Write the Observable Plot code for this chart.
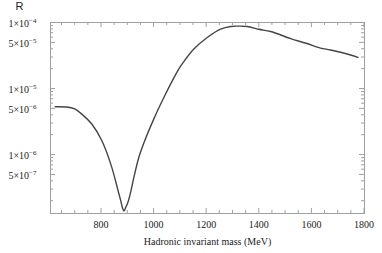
<!DOCTYPE html>
<html><head><meta charset="utf-8">
<script src="https://cdn.jsdelivr.net/npm/d3@7"></script>
<script src="https://cdn.jsdelivr.net/npm/@observablehq/plot@0.6"></script>
<style>body{margin:0;background:#fff}</style>
</head><body><div id="chart"></div>
<script>
const mass  = [626, 669, 700, 727, 765, 803, 839, 868, 875, 880, 884, 887, 890, 894, 900, 906, 915, 925, 944, 963, 1001, 1039, 1077, 1095, 1110, 1153, 1204, 1255, 1293, 1320, 1356, 1400, 1445, 1521, 1580, 1635, 1673, 1749, 1777];
const ratio = [5.3e-6, 5.25e-6, 4.9e-6, 4.1e-6, 2.9e-6, 1.63e-6, 6.8e-7, 2.55e-7, 2.0e-7, 1.65e-7, 1.47e-7, 1.40e-7, 1.44e-7, 1.58e-7, 1.78e-7, 2.1e-7, 2.95e-7, 4.5e-7, 9.1e-7, 1.5e-6, 3.47e-6, 7.3e-6, 1.45e-5, 1.95e-5, 2.4e-5, 3.96e-5, 5.93e-5, 7.95e-5, 8.7e-5, 8.8e-5, 8.7e-5, 7.9e-5, 7.3e-5, 5.7e-5, 4.85e-5, 4.1e-5, 3.83e-5, 3.22e-5, 2.96e-5];
const xTicks = [800, 1000, 1200, 1400, 1600, 1800];
const yTicks = [1e-4, 5e-5, 1e-5, 5e-6, 1e-6, 5e-7];
const yTickLabels = ["1×10^−4", "5×10^−5", "1×10^−5", "5×10^−6", "1×10^−6", "5×10^−7"];
const xLabel = "Hadronic invariant mass (MeV)";
const yLabel = "R";

const data = mass.map((m, i) => ({m, r: ratio[i]}));
const yLabelData = yTicks.map((v, i) => ({v, label: yTickLabels[i]}));
const xDomain = [608, 1802];
const yDomain = [1.28e-7, 1e-4];

const W = 382, H = 253, mL = 50, mR = 18, mT = 22, mB = 40;
const iw = W - mL - mR, ih = H - mT - mB;

const xMinor = d3.range(650, 1801, 50).filter(v => !xTicks.includes(v));
const yMinor = [];
for (let e = -7; e <= -5; e++) for (let k = 1; k <= 9; k++) {
  const v = k * Math.pow(10, e);
  if (v >= yDomain[0] && v <= yDomain[1] && !yTicks.some(t => Math.abs(t - v) / v < 1e-9)) yMinor.push(v);
}
const tc = "#a0a0a0";
const serif = "Liberation Serif, Times New Roman, serif";

const chart = Plot.plot({
  width: W, height: H,
  marginLeft: mL, marginRight: mR, marginTop: mT, marginBottom: mB,
  style: {background: "#fff", overflow: "visible"},
  x: {domain: xDomain, axis: null},
  y: {type: "log", domain: yDomain, axis: null},
  marks: [
    Plot.frame({stroke: tc, strokeWidth: 1}),
    Plot.tickX(xTicks, {x: d => d, insetTop: ih - 5, stroke: tc}),
    Plot.tickX(xTicks, {x: d => d, insetBottom: ih - 5, stroke: tc}),
    Plot.tickX(xMinor, {x: d => d, insetTop: ih - 3, stroke: tc}),
    Plot.tickX(xMinor, {x: d => d, insetBottom: ih - 3, stroke: tc}),
    Plot.tickY(yTicks, {y: d => d, insetRight: iw - 5, stroke: tc}),
    Plot.tickY(yTicks, {y: d => d, insetLeft: iw - 5, stroke: tc}),
    Plot.tickY(yMinor, {y: d => d, insetRight: iw - 3, stroke: tc}),
    Plot.tickY(yMinor, {y: d => d, insetLeft: iw - 3, stroke: tc}),
    Plot.text(xTicks, {x: d => d, text: d => String(d), frameAnchor: "bottom", dy: 7, lineAnchor: "top", fontFamily: serif, fontSize: 10, fill: "#222"}),
    Plot.text(yLabelData, {y: "v", text: "label", frameAnchor: "left", dx: -14, textAnchor: "end", lineAnchor: "middle", fontFamily: serif, fontSize: 10, fill: "#222"}),
    Plot.line(data, {x: "m", y: "r", stroke: "#454545", strokeWidth: 1.4, curve: "catmull-rom"}),
    Plot.text([xLabel], {frameAnchor: "bottom", dy: 31, lineAnchor: "bottom", fontFamily: serif, fontSize: 10, fill: "#222"}),
    Plot.text([yLabel], {frameAnchor: "top-left", dx: -35, dy: -13, lineAnchor: "bottom", fontFamily: "Liberation Sans, Arial, sans-serif", fontSize: 11, fill: "#222"})
  ]
});

const ns = "http://www.w3.org/2000/svg";
chart.querySelectorAll('text').forEach(t => {
  const s = t.textContent;
  if (!s.includes("^")) return;
  const [base, exp] = s.split("^");
  t.textContent = "";
  const a = document.createElementNS(ns, "tspan");
  a.textContent = base;
  a.setAttribute("dy", "0.15em");
  t.appendChild(a);
  const b = document.createElementNS(ns, "tspan");
  b.textContent = exp;
  b.setAttribute("dy", "-0.55em");
  b.setAttribute("font-size", "7");
  t.appendChild(b);
});
document.getElementById("chart").appendChild(chart);
</script>
</body></html>
